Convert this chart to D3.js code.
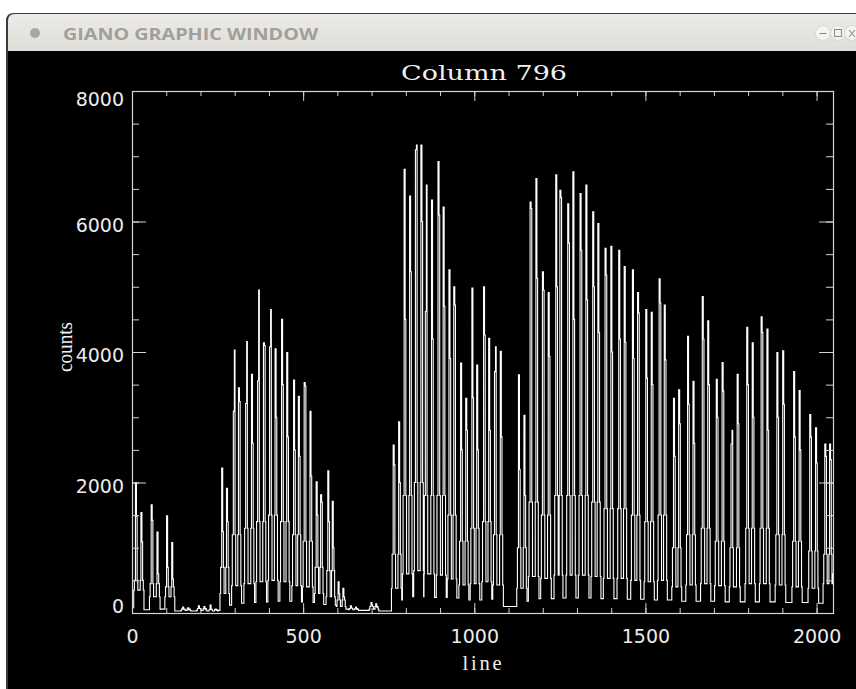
<!DOCTYPE html>
<html>
<head>
<meta charset="utf-8">
<script src="https://cdn.jsdelivr.net/npm/d3@7"></script>
<style>
  body { margin: 0; background: #fff; }
  svg { display: block; }
</style>
</head>
<body>
<svg id="chart" width="856" height="689"></svg>
<script>
// Column 796 cut: every order gives two fibre spikes (A then B)
const fiberALine = [12, 58, 103, 150, 196, 230, 264, 298, 334, 369, 404, 439, 474, 505, 540, 574, 604, 640, 700,
  765, 797, 830, 859, 896, 928, 962, 995, 1029, 1061,
  1131, 1165, 1201, 1240, 1275, 1311, 1348, 1384, 1424, 1464, 1503, 1542, 1584, 1625, 1668, 1709, 1752, 1798, 1840, 1886, 1935, 1982, 2026];
const fiberACounts = [2000, 1660, 1490, 90, 110, 120, 2220, 3090, 3210, 3560, 4080, 4500, 3570, 3530, 2010, 2180, 480, 110, 160,
  2575, 6800, 7100, 4620, 6920, 5260, 3830, 4980, 5000, 3700,
  3650, 6300, 5230, 6715, 6270, 6430, 6150, 5590, 5560, 5260, 4650, 5120, 3290, 4240, 4850, 3580, 2590, 4380, 4540, 3990, 3700, 3040, 2590];
const fiberAShoulder = [1480, 1420, 700, 60, 70, 60, 1250, 4030, 4160, 4950, 4650, 3500, 2500, 3480, 1500, 1400, 300, 80, 120,
  2270, 4500, 7170, 6560, 6100, 3900, 2500, 3300, 4260, 4080,
  2200, 6200, 4950, 5000, 5670, 5560, 5000, 5180, 4200, 3900, 3600, 4750, 2400, 3200, 4200, 3000, 2800, 3500, 4300, 3000, 2700, 2700, 2400];
const fiberBLine = [28, 75, 118, 165, 212, 245, 278, 313, 351, 386, 420, 454, 488, 522, 553, 587, 618, 655, 714,
  781, 813, 846, 877, 911, 942, 977, 1009, 1044, 1078,
  1147, 1182, 1218, 1252, 1290, 1328, 1363, 1401, 1440, 1479, 1519, 1557, 1599, 1641, 1684, 1726, 1770, 1814, 1857, 1903, 1951, 1999, 2040];
const fiberBCounts = [1540, 1240, 1080, 80, 100, 60, 1910, 3450, 3660, 4140, 4050, 3990, 3320, 3090, 1810, 1710, 380, 90, 140,
  2930, 6390, 7170, 6330, 6220, 5000, 3290, 3800, 4210, 4010,
  3030, 6660, 4910, 6480, 6760, 6560, 5970, 5620, 5310, 4910, 4610, 4720, 3420, 3550, 4480, 3840, 3660, 4140, 4350, 4020, 3410, 2840, 2590];
const fiberBShoulder = [1090, 600, 520, 50, 60, 40, 1400, 3240, 2600, 4100, 3000, 2700, 2400, 2100, 1700, 1000, 250, 60, 90,
  2000, 5230, 6000, 4200, 4700, 4720, 2800, 2500, 2800, 2700,
  1800, 5130, 3930, 6370, 4500, 4800, 4300, 4000, 4150, 4600, 3500, 3880, 2900, 2600, 3500, 3400, 2900, 3000, 2800, 3200, 2500, 2300, 2350];
// step level on the flanks of each spike
const flankCounts = [500, 450, 400, 60, 70, 50, 700, 1200, 1300, 1400, 1500, 1400, 1200, 1100, 700, 650, 200, 70, 100,
  900, 1800, 2000, 1800, 1800, 1500, 1100, 1300, 1400, 1200,
  1000, 1700, 1500, 1800, 1800, 1800, 1700, 1600, 1600, 1500, 1400, 1500, 1000, 1200, 1300, 1100, 1000, 1300, 1300, 1200, 1100, 950, 900];
// level between the two fibres, and the inter-order valley after fibre B
const gapCounts = [350, 250, 250, 40, 40, 30, 300, 420, 450, 480, 500, 480, 420, 400, 300, 250, 100, 50, 60,
  380, 600, 650, 600, 580, 520, 430, 450, 480, 430,
  380, 560, 530, 580, 580, 580, 560, 530, 530, 500, 480, 500, 400, 430, 450, 420, 400, 450, 450, 430, 400, 380, 450];
const valleyCounts = [50, 60, 30, 30, 30, 40, 120, 150, 160, 170, 180, 180, 170, 160, 130, 120, 60, 40, 30,
  200, 250, 250, 240, 240, 230, 200, 200, 210, 100,
  180, 220, 220, 230, 230, 230, 220, 220, 210, 210, 200, 200, 180, 180, 180, 170, 170, 170, 170, 160, 160, 150, 600];
const startCounts = 80;

const xMajor = [0, 500, 1000, 1500, 2000];
const yMajor = [0, 2000, 4000, 6000, 8000];

const svg = d3.select("#chart");
const W = 856, H = 689;
const plot = { left: 132, right: 833, top: 91, bottom: 613 };

// ---- window chrome
const defs = svg.append("defs");
const grad = defs.append("linearGradient").attr("id", "bar")
  .attr("x1", 0).attr("y1", 0).attr("x2", 0).attr("y2", 1);
grad.append("stop").attr("offset", "0%").attr("stop-color", "#edebe7");
grad.append("stop").attr("offset", "100%").attr("stop-color", "#dfddd8");

svg.append("rect").attr("width", W).attr("height", H).attr("fill", "#fff");
svg.append("path").attr("d", "M6,21 Q6,13 14,13 L856,13 L856,689 L6,689 Z").attr("fill", "#3a3a3a");
svg.append("path").attr("d", "M8,21 Q8,14 15,14 L856,14 L856,51 L8,51 Z").attr("fill", "url(#bar)");
svg.append("rect").attr("x", 8).attr("y", 51).attr("width", W - 8).attr("height", H - 51).attr("fill", "#000");

svg.append("circle").attr("cx", 35).attr("cy", 33).attr("r", 5).attr("fill", "#a9a7a2");
svg.append("text")
  .attr("x", 63).attr("y", 39.5)
  .attr("font-family", "'Open Sans', 'DejaVu Sans', sans-serif")
  .attr("font-weight", "bold").attr("font-size", 16.5)
  .attr("fill", "#a19f9a")
  .attr("textLength", 255).attr("lengthAdjust", "spacingAndGlyphs")
  .text("GIANO GRAPHIC WINDOW");

[823, 838, 852].forEach(cx => {
  svg.append("circle").attr("cx", cx).attr("cy", 33).attr("r", 7.5)
    .attr("fill", "#f5f4f1").attr("stroke", "#d2d0cb").attr("stroke-width", 0.8);
});
const btn = svg.append("g").attr("stroke", "#8e8c88").attr("stroke-width", 1.1).attr("fill", "none");
btn.append("line").attr("x1", 819.5).attr("x2", 826.5).attr("y1", 33.5).attr("y2", 33.5);
btn.append("rect").attr("x", 834.5).attr("y", 29.5).attr("width", 7).attr("height", 7);
btn.append("path").attr("d", "M849,30 L855,37 M855,30 L849,37");

// ---- scales
const x = d3.scaleLinear().domain([0, 2048]).range([plot.left, plot.right]);
const y = d3.scaleLinear().domain([0, 8000]).range([plot.bottom, plot.top]);

// ---- trace vertices (step histogram, one order at a time)
const trace = [[0, startCounts]];
fiberALine.forEach((a, i) => {
  const b = fiberBLine[i];
  trace.push(
    [a - 7, gapCounts[i]], [a - 5, flankCounts[i]], [a - 2, fiberACounts[i]], [a + 1, fiberAShoulder[i]],
    [a + 3, flankCounts[i]], [a + 5, gapCounts[i]],
    [b - 4, flankCounts[i]], [b - 2, fiberBCounts[i]], [b + 1, fiberBShoulder[i]],
    [b + 3, flankCounts[i]], [b + 5, gapCounts[i]], [b + 7, valleyCounts[i]]
  );
});
trace.push([2048, valleyCounts[valleyCounts.length - 1]]);

defs.append("clipPath").attr("id", "clip")
  .append("rect")
  .attr("x", plot.left).attr("y", plot.top)
  .attr("width", plot.right - plot.left).attr("height", plot.bottom - plot.top);

const line = d3.line()
  .x(d => x(d[0]))
  .y(d => y(d[1]))
  .curve(d3.curveStepAfter);

svg.append("path")
  .datum(trace)
  .attr("clip-path", "url(#clip)")
  .attr("fill", "none")
  .attr("stroke", "#fff")
  .attr("stroke-width", 1.1)
  .attr("d", line);

// ---- axes (ticks point inward on all four sides)
const axisColor = "#d4d4d4";
const labelFont = "'DejaVu Sans', sans-serif";

function styleAxis(g) {
  g.select(".domain").remove();
  g.selectAll(".tick line").attr("stroke", axisColor);
  g.selectAll("text")
    .attr("fill", "#ececec")
    .attr("font-family", labelFont)
    .attr("font-size", 19);
}

const xMinor = d3.range(0, 2001, 100);
const yMinor = d3.range(0, 8001, 500);

svg.append("g").attr("transform", `translate(0,${plot.bottom})`)
  .call(d3.axisBottom(x).tickValues(xMinor).tickSize(-5).tickFormat(""))
  .call(styleAxis);
svg.append("g").attr("transform", `translate(0,${plot.bottom})`)
  .call(d3.axisBottom(x).tickValues(xMajor).tickSize(-10).tickPadding(17).tickFormat(d3.format("d")))
  .call(styleAxis);
svg.append("g").attr("transform", `translate(0,${plot.top})`)
  .call(d3.axisTop(x).tickValues(xMinor).tickSize(-5).tickFormat(""))
  .call(styleAxis);
svg.append("g").attr("transform", `translate(0,${plot.top})`)
  .call(d3.axisTop(x).tickValues(xMajor).tickSize(-10).tickFormat(""))
  .call(styleAxis);

svg.append("g").attr("transform", `translate(${plot.left},0)`)
  .call(d3.axisLeft(y).tickValues(yMinor).tickSize(-7).tickFormat(""))
  .call(styleAxis);
const yAxis = svg.append("g").attr("transform", `translate(${plot.left},0)`)
  .call(d3.axisLeft(y).tickValues(yMajor).tickSize(-14).tickPadding(8).tickFormat(d3.format("d")))
  .call(styleAxis);
yAxis.selectAll("text").attr("dy", d => d === 0 ? "-0.05em" : d === 8000 ? "0.75em" : "0.5em");

svg.append("g").attr("transform", `translate(${plot.right},0)`)
  .call(d3.axisRight(y).tickValues(yMinor).tickSize(-7).tickFormat(""))
  .call(styleAxis);
svg.append("g").attr("transform", `translate(${plot.right},0)`)
  .call(d3.axisRight(y).tickValues(yMajor).tickSize(-14).tickFormat(""))
  .call(styleAxis);

svg.append("rect")
  .attr("x", plot.left + 0.5).attr("y", plot.top + 0.5)
  .attr("width", plot.right - plot.left).attr("height", plot.bottom - plot.top)
  .attr("fill", "none").attr("stroke", axisColor).attr("stroke-width", 1.2);

// ---- titles
const serif = "'DejaVu Serif', 'Liberation Serif', serif";
svg.append("text")
  .attr("x", 484).attr("y", 80).attr("text-anchor", "middle")
  .attr("font-family", serif).attr("font-size", 20).attr("fill", "#f0f0f0")
  .attr("textLength", 166).attr("lengthAdjust", "spacingAndGlyphs")
  .text("Column 796");

svg.append("text")
  .attr("x", 482).attr("y", 670).attr("text-anchor", "middle")
  .attr("font-family", "'Liberation Serif', serif").attr("font-size", 20.5).attr("fill", "#f0f0f0")
  .attr("textLength", 39).attr("lengthAdjust", "spacing")
  .text("line");

svg.append("text")
  .attr("transform", "translate(72,347) rotate(-90)")
  .attr("text-anchor", "middle")
  .attr("font-family", "'Liberation Serif', serif").attr("font-size", 20).attr("fill", "#f0f0f0")
  .attr("textLength", 50).attr("lengthAdjust", "spacingAndGlyphs")
  .text("counts");
</script>
</body>
</html>
